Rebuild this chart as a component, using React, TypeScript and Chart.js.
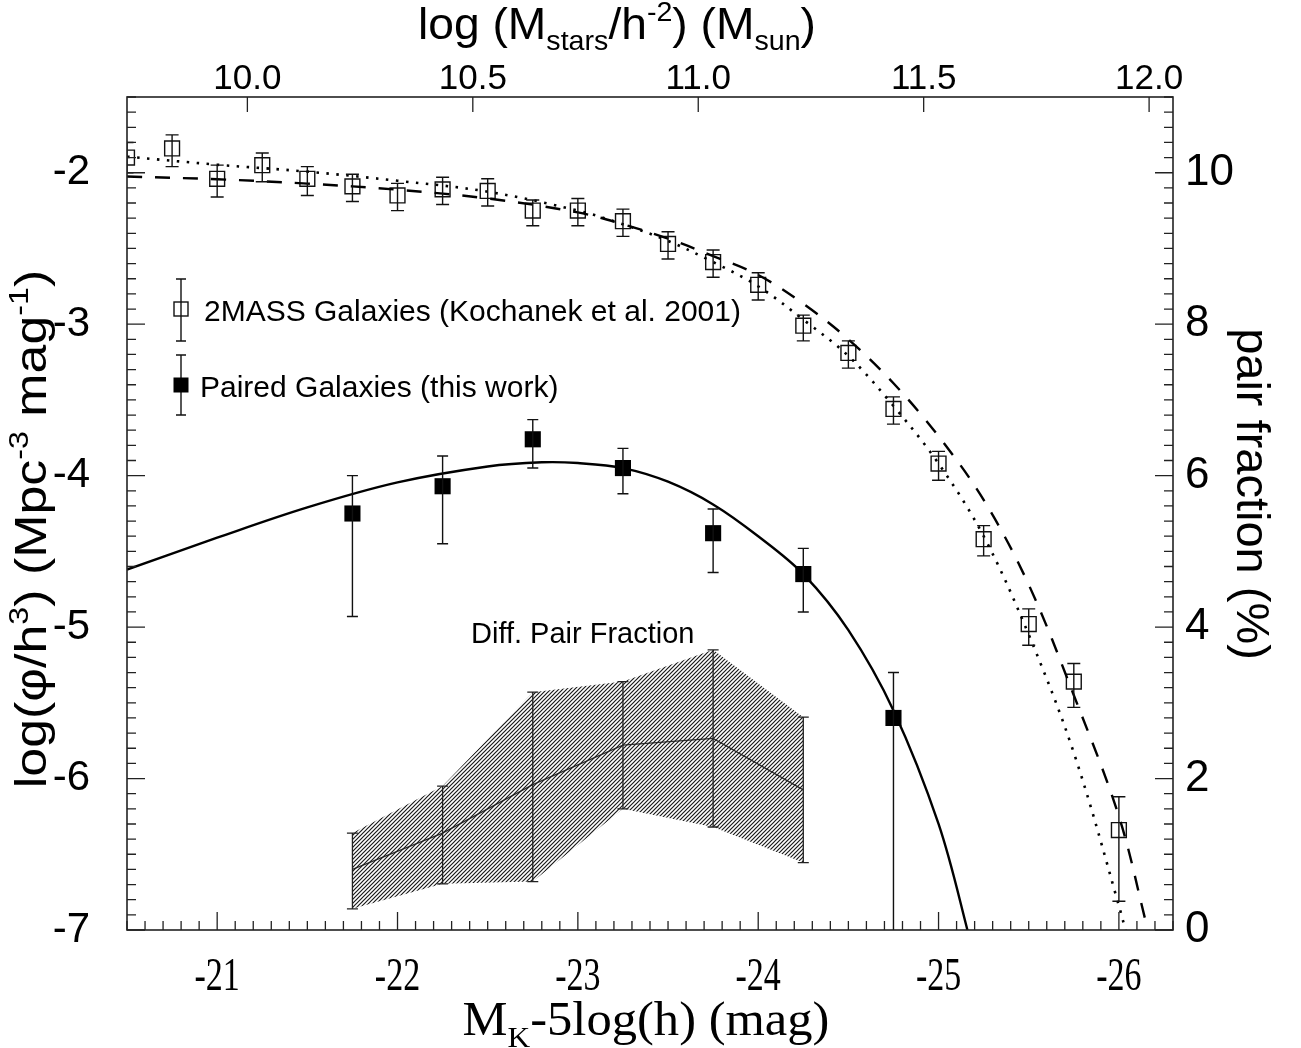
import React, { useEffect, useRef } from 'react';
import { Chart, registerables } from 'chart.js';

Chart.register(...registerables);

const CANVAS_W = 1301;
const CANVAS_H = 1048;

// ---------------- axes / ticks ----------------
const magTicks = [-21, -22, -23, -24, -25, -26];
const magTickLabels = ['-21', '-22', '-23', '-24', '-25', '-26'];
const massTicks = [10.0, 10.5, 11.0, 11.5, 12.0];
const massTickLabels = ['10.0', '10.5', '11.0', '11.5', '12.0'];
const phiTicks = [-7, -6, -5, -4, -3, -2];
const phiTickLabels = ['-7', '-6', '-5', '-4', '-3', '-2'];
const fracTicks = [0, 2, 4, 6, 8, 10];
const fracTickLabels = ['0', '2', '4', '6', '8', '10'];

// ---------------- 2MASS galaxies (open squares) ----------------
const massMag = [-20.5, -20.75, -21.0, -21.25, -21.5, -21.75, -22.0, -22.25, -22.5, -22.75, -23.0, -23.25, -23.5, -23.75, -24.0, -24.25, -24.5, -24.75, -25.0, -25.25, -25.5, -25.75, -26.0];
const massLogPhi = [-1.90, -1.84, -2.04, -1.95, -2.04, -2.09, -2.15, -2.11, -2.12, -2.25, -2.25, -2.32, -2.47, -2.59, -2.74, -3.01, -3.19, -3.56, -3.92, -4.42, -4.98, -5.36, -6.34];
const massErrHi = [0.10, 0.09, 0.09, 0.08, 0.08, 0.08, 0.08, 0.08, 0.08, 0.07, 0.08, 0.08, 0.08, 0.08, 0.08, 0.07, 0.08, 0.08, 0.08, 0.09, 0.10, 0.12, 0.22];
const massErrLo = [0.10, 0.12, 0.12, 0.11, 0.11, 0.10, 0.10, 0.10, 0.10, 0.10, 0.10, 0.10, 0.10, 0.10, 0.10, 0.10, 0.10, 0.10, 0.11, 0.11, 0.14, 0.17, 0.47];

// ---------------- paired galaxies (filled squares) ----------------
const pairMag = [-21.75, -22.25, -22.75, -23.25, -23.75, -24.25, -24.75];
const pairLogPhi = [-4.25, -4.07, -3.76, -3.95, -4.38, -4.65, -5.60];
const pairErrHi = [0.25, 0.20, 0.13, 0.13, 0.16, 0.17, 0.30];
const pairErrLo = [0.68, 0.38, 0.19, 0.17, 0.26, 0.25, 3.0];

// ---------------- differential pair fraction (right axis, %) ----------------
const fracMag = [-21.75, -22.25, -22.75, -23.25, -23.75, -24.25];
const fracMid = [0.80, 1.28, 1.92, 2.44, 2.53, 1.85];
const fracHigh = [1.28, 1.90, 3.14, 3.28, 3.70, 2.81];
const fracLow = [0.28, 0.61, 0.64, 1.60, 1.36, 0.89];

// ---------------- fitted curves ----------------
const solidMag = [-20.5, -21.0, -21.5, -22.0, -22.5, -22.8, -23.0, -23.25, -23.5, -23.75, -24.0, -24.25, -24.5, -24.75, -25.0, -25.16, -25.25];
const solidLogPhi = [-4.62, -4.41, -4.21, -4.045, -3.94, -3.912, -3.917, -3.95, -4.04, -4.19, -4.40, -4.65, -5.02, -5.55, -6.30, -7.0, -7.45];

const dottedMag = [-20.5, -21.0, -21.5, -22.0, -22.5, -23.0, -23.25, -23.5, -23.75, -24.0, -24.25, -24.5, -24.75, -25.0, -25.25, -25.5, -25.75, -26.0, -26.1];
const dottedLogPhi = [-1.894, -1.947, -1.993, -2.053, -2.125, -2.25, -2.34, -2.45, -2.59, -2.75, -2.97, -3.21, -3.54, -3.92, -4.40, -5.05, -5.83, -6.84, -7.3];

const dashedMag = [-20.5, -21.0, -21.5, -22.0, -22.5, -23.0, -23.25, -23.5, -23.75, -24.0, -24.25, -24.5, -24.75, -25.0, -25.25, -25.5, -25.75, -26.0, -26.15, -26.2];
const dashedLogPhi = [-2.025, -2.043, -2.072, -2.112, -2.17, -2.262, -2.34, -2.435, -2.55, -2.675, -2.865, -3.10, -3.39, -3.74, -4.16, -4.72, -5.45, -6.25, -6.95, -7.2];

const SANS = "'Liberation Sans', Arial, Helvetica, sans-serif";
const SERIF = "'Liberation Serif', 'Times New Roman', serif";

type Part = { t: string; k?: 'sub' | 'sup' };

function drawRich(ctx: CanvasRenderingContext2D, parts: Part[], cx: number, cy: number, size: number, family: string, rot: number, sx: number, sy: number) {
  ctx.save();
  ctx.translate(cx, cy);
  ctx.rotate(rot);
  ctx.scale(sx, sy);
  const items = parts.map((p) => {
    const fs = p.k ? size * 0.62 : size;
    ctx.font = `${fs}px ${family}`;
    return { p, fs, w: ctx.measureText(p.t).width };
  });
  const total = items.reduce((a, b) => a + b.w, 0);
  let x = -total / 2;
  ctx.textAlign = 'left';
  ctx.textBaseline = 'alphabetic';
  ctx.fillStyle = '#000';
  for (const it of items) {
    ctx.font = `${it.fs}px ${family}`;
    const dy = it.p.k === 'sub' ? size * 0.24 : it.p.k === 'sup' ? -size * 0.42 : 0;
    ctx.fillText(it.p.t, x, dy);
    x += it.w;
  }
  ctx.restore();
}

function errBar(ctx: CanvasRenderingContext2D, x: number, yTop: number, yBot: number, cap: number) {
  ctx.beginPath();
  ctx.moveTo(x, yTop);
  ctx.lineTo(x, yBot);
  ctx.moveTo(x - cap, yTop);
  ctx.lineTo(x + cap, yTop);
  ctx.moveTo(x - cap, yBot);
  ctx.lineTo(x + cap, yBot);
  ctx.stroke();
}

const decorPlugin = {
  id: 'decor',
  afterDatasetsDraw(chart: any) {
    const ctx: CanvasRenderingContext2D = chart.ctx;
    const area = chart.chartArea;
    const xs = chart.scales.x;
    const ys = chart.scales.y;
    const y2 = chart.scales.y2;
    ctx.save();
    ctx.beginPath();
    ctx.rect(area.left, area.top, area.right - area.left, area.bottom - area.top);
    ctx.clip();
    ctx.strokeStyle = '#111';
    ctx.lineWidth = 1.4;
    massMag.forEach((m, i) => {
      const px = xs.getPixelForValue(m);
      errBar(ctx, px, ys.getPixelForValue(massLogPhi[i] + massErrHi[i]), ys.getPixelForValue(massLogPhi[i] - massErrLo[i]), 6.5);
    });
    pairMag.forEach((m, i) => {
      const px = xs.getPixelForValue(m);
      errBar(ctx, px, ys.getPixelForValue(pairLogPhi[i] + pairErrHi[i]), ys.getPixelForValue(pairLogPhi[i] - pairErrLo[i]), 5.5);
    });
    ctx.lineWidth = 1.3;
    ctx.strokeStyle = '#222';
    fracMag.forEach((m, i) => {
      const px = xs.getPixelForValue(m);
      errBar(ctx, px, y2.getPixelForValue(fracHigh[i]), y2.getPixelForValue(fracLow[i]), 5.5);
    });
    ctx.restore();
  },
  afterDraw(chart: any) {
    const ctx: CanvasRenderingContext2D = chart.ctx;
    const area = chart.chartArea;
    const xs = chart.scales.x;
    const xt = chart.scales.x2;
    const ys = chart.scales.y;
    const y2 = chart.scales.y2;
    ctx.save();
    ctx.strokeStyle = '#222';
    ctx.lineWidth = 1.6;
    ctx.strokeRect(area.left, area.top, area.right - area.left, area.bottom - area.top);
    const MAJ = 18, MIN = 9;
    ctx.lineWidth = 1.3;
    ctx.beginPath();
    for (let k = -205; k >= -263; k--) {
      const px = xs.getPixelForValue(k / 10);
      const len = k % 10 === 0 ? MAJ : MIN;
      ctx.moveTo(px, area.bottom);
      ctx.lineTo(px, area.bottom - len);
    }
    for (let k = -70; k <= -15; k++) {
      const py = ys.getPixelForValue(k / 10);
      const len = k % 10 === 0 ? MAJ : MIN;
      ctx.moveTo(area.left, py);
      ctx.lineTo(area.left + len, py);
    }
    for (let k = 0; k <= 55; k++) {
      const py = y2.getPixelForValue(k / 5);
      const len = k % 10 === 0 ? MAJ : MIN;
      ctx.moveTo(area.right, py);
      ctx.lineTo(area.right - len, py);
    }
    massTicks.forEach((v) => {
      const px = xt.getPixelForValue(v);
      ctx.moveTo(px, area.top);
      ctx.lineTo(px, area.top + 15);
    });
    ctx.stroke();

    ctx.fillStyle = '#000';
    magTicks.forEach((v, i) => {
      const px = xs.getPixelForValue(v);
      ctx.save();
      ctx.translate(px, 990);
      ctx.scale(1, 1.35);
      ctx.font = `34px ${SERIF}`;
      ctx.textAlign = 'center';
      ctx.textBaseline = 'alphabetic';
      ctx.fillText(magTickLabels[i], 0, 0);
      ctx.restore();
    });

    drawRich(ctx, [{ t: 'M' }, { t: 'K', k: 'sub' }, { t: '-5log(h) (mag)' }], 646, 1035, 46, SERIF, 0, 1.1, 1.05);
    drawRich(ctx, [{ t: 'log (M' }, { t: 'stars', k: 'sub' }, { t: '/h' }, { t: '-2', k: 'sup' }, { t: ') (M' }, { t: 'sun', k: 'sub' }, { t: ')' }], 617, 39, 44, SANS, 0, 1.05, 1);
    drawRich(ctx, [{ t: 'log(φ/h' }, { t: '3', k: 'sup' }, { t: ') (Mpc' }, { t: '-3', k: 'sup' }, { t: ' mag' }, { t: '-1', k: 'sup' }, { t: ')' }], 46, 529, 44, SANS, -Math.PI / 2, 1.18, 1);
    drawRich(ctx, [{ t: 'pair fraction (%)' }], 1237, 494, 47, SANS, Math.PI / 2, 1, 1);

    ctx.strokeStyle = '#111';
    ctx.lineWidth = 1.4;
    errBar(ctx, 181, 279, 341, 5);
    ctx.strokeRect(181 - 7, 309 - 7, 14, 14);
    errBar(ctx, 181, 355, 415, 5);
    ctx.fillStyle = '#000';
    ctx.fillRect(181 - 7.5, 385 - 7.5, 15, 15);
    ctx.font = `30px ${SANS}`;
    ctx.textAlign = 'left';
    ctx.textBaseline = 'alphabetic';
    ctx.fillText('2MASS Galaxies (Kochanek et al. 2001)', 204, 321);
    ctx.fillText('Paired Galaxies (this work)', 200, 397);
    ctx.font = `29px ${SANS}`;
    ctx.fillText('Diff. Pair Fraction', 471, 643);
    ctx.restore();
  },
};

function pts(xsArr: number[], ysArr: number[]) {
  return xsArr.map((x, i) => ({ x, y: ysArr[i] }));
}

export default function App() {
  const ref = useRef<HTMLCanvasElement>(null);

  useEffect(() => {
    const canvas = ref.current;
    if (!canvas) return;
    const ctx = canvas.getContext('2d')!;

    const tile = document.createElement('canvas');
    tile.width = 4;
    tile.height = 4;
    const tc = tile.getContext('2d')!;
    tc.strokeStyle = '#1a1a1a';
    tc.lineWidth = 1.2;
    tc.beginPath();
    tc.moveTo(0, 4); tc.lineTo(4, 0);
    tc.moveTo(-1, 1); tc.lineTo(1, -1);
    tc.moveTo(3, 5); tc.lineTo(5, 3);
    tc.stroke();
    const hatch = ctx.createPattern(tile, 'repeat');

    const lineBase = { pointRadius: 0, tension: 0, fill: false, clip: 0 } as any;

    const chart = new Chart(ctx, {
      type: 'line',
      data: {
        datasets: [
          { ...lineBase, label: 'Paired fit', data: pts(solidMag, solidLogPhi), borderColor: '#000', borderWidth: 2.4, tension: 0.35, yAxisID: 'y' },
          { ...lineBase, label: '2MASS fit (dotted)', data: pts(dottedMag, dottedLogPhi), borderColor: '#000', borderWidth: 2.6, borderDash: [2.5, 7.5], tension: 0.35, yAxisID: 'y' },
          { ...lineBase, label: '2MASS fit (dashed)', data: pts(dashedMag, dashedLogPhi), borderColor: '#000', borderWidth: 2.4, borderDash: [15, 13], tension: 0.35, yAxisID: 'y' },
          { ...lineBase, label: 'Pair fraction upper', data: pts(fracMag, fracHigh), borderColor: 'rgba(0,0,0,0)', borderWidth: 0, backgroundColor: hatch, fill: '+1', yAxisID: 'y2' },
          { ...lineBase, label: 'Pair fraction lower', data: pts(fracMag, fracLow), borderColor: 'rgba(0,0,0,0)', borderWidth: 0, yAxisID: 'y2' },
          { ...lineBase, label: 'Diff. Pair Fraction', data: pts(fracMag, fracMid), borderColor: '#333', borderWidth: 1.3, yAxisID: 'y2' },
          { label: '2MASS Galaxies', data: pts(massMag, massLogPhi), showLine: false, pointStyle: 'rect', pointRadius: 10.5, pointBorderWidth: 1.4, pointBackgroundColor: 'rgba(0,0,0,0)', pointBorderColor: '#111', borderColor: '#111', yAxisID: 'y', clip: 0 } as any,
          { label: 'Paired Galaxies', data: pts(pairMag, pairLogPhi), showLine: false, pointStyle: 'rect', pointRadius: 11.4, pointBorderWidth: 0, pointBackgroundColor: '#000', pointBorderColor: '#000', borderColor: '#000', yAxisID: 'y', clip: 0 } as any,
        ],
      },
      options: {
        animation: false,
        responsive: false,
        devicePixelRatio: 1,
        events: [],
        layout: { padding: 0 },
        plugins: { legend: { display: false }, tooltip: { enabled: false }, title: { display: false } },
        scales: {
          x: {
            type: 'linear', position: 'bottom', min: -26.3, max: -20.5, reverse: true,
            grid: { display: false, drawTicks: false }, border: { display: false },
            ticks: { display: false },
            afterBuildTicks: (s: any) => { s.ticks = magTicks.map((v) => ({ value: v })); },
            afterFit: (s: any) => { s.height = 118; },
          },
          x2: {
            type: 'linear', position: 'top', min: 9.733, max: 12.053,
            grid: { display: false, drawTicks: false }, border: { display: false },
            ticks: {
              color: '#000', padding: 0, maxRotation: 0, autoSkip: false,
              font: { family: SANS, size: 35, lineHeight: 1 },
              callback: (v: any) => massTickLabels[massTicks.indexOf(Number(v))] ?? '',
            },
            afterBuildTicks: (s: any) => { s.ticks = massTicks.map((v) => ({ value: v })); },
            afterFit: (s: any) => { s.height = 97; },
          },
          y: {
            type: 'linear', position: 'left', min: -7, max: -1.5,
            grid: { display: false, drawTicks: false }, border: { display: false },
            ticks: {
              color: '#000', padding: 37, autoSkip: false,
              font: { family: SANS, size: 42 },
              callback: (v: any) => phiTickLabels[phiTicks.indexOf(Number(v))] ?? '',
            },
            afterBuildTicks: (s: any) => { s.ticks = phiTicks.map((v) => ({ value: v })); },
            afterFit: (s: any) => { s.width = 127; },
          },
          y2: {
            type: 'linear', position: 'right', min: 0, max: 11,
            grid: { display: false, drawTicks: false }, border: { display: false },
            ticks: {
              color: '#000', padding: 12, autoSkip: false,
              font: { family: SANS, size: 44 },
              callback: (v: any) => fracTickLabels[fracTicks.indexOf(Number(v))] ?? '',
            },
            afterBuildTicks: (s: any) => { s.ticks = fracTicks.map((v) => ({ value: v })); },
            afterFit: (s: any) => { s.width = 128; },
          },
        },
      } as any,
      plugins: [decorPlugin],
    });

    return () => chart.destroy();
  }, []);

  return (
    <div style={{ position: 'absolute', left: 0, top: 0, width: CANVAS_W, height: CANVAS_H, background: '#fff' }}>
      <canvas ref={ref} width={CANVAS_W} height={CANVAS_H} style={{ display: 'block', width: CANVAS_W, height: CANVAS_H }} />
    </div>
  );
}
